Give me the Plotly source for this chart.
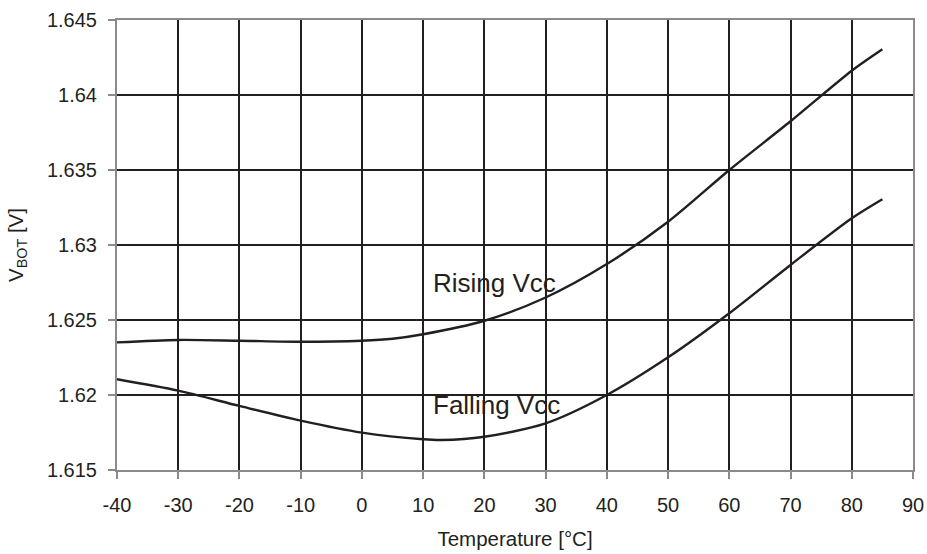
import plotly.graph_objects as go

# Data
temp_rising = [-40, -30, -20, -10, 0, 5, 10, 20, 30, 40, 50, 60, 70, 80, 85]
vbot_rising = [1.62351, 1.62367, 1.62362, 1.62355, 1.62362, 1.62375, 1.62405, 1.62495,
               1.62650, 1.62873, 1.63155, 1.63500, 1.63825, 1.64162, 1.64305]

temp_falling = [-40, -30, -20, -10, 0, 10, 13, 20, 30, 40, 50, 60, 70, 80, 85]
vbot_falling = [1.62105, 1.62029, 1.61927, 1.61829, 1.61749, 1.61705, 1.61700, 1.61722,
                1.61811, 1.62000, 1.62251, 1.62545, 1.62867, 1.63178, 1.63305]

x_ticks = list(range(-40, 91, 10))
y_ticks = [1.615, 1.62, 1.625, 1.63, 1.635, 1.64, 1.645]
y_tick_labels = ["1.615", "1.62", "1.625", "1.63", "1.635", "1.64", "1.645"]

labels = ["Rising Vcc", "Falling Vcc"]
label_x = [11.3, 11.3]
label_y = [1.62747, 1.61933]

ink = "#231f20"
axis_grey = "#8a8a8a"
font_family = "Liberation Sans, Arial, sans-serif"

fig = go.Figure()
fig.add_trace(go.Scatter(x=temp_rising, y=vbot_rising, mode="lines",
                         line=dict(color=ink, width=2.4, shape="spline", smoothing=0.8),
                         showlegend=False, hoverinfo="skip"))
fig.add_trace(go.Scatter(x=temp_falling, y=vbot_falling, mode="lines",
                         line=dict(color=ink, width=2.4, shape="spline", smoothing=0.8),
                         showlegend=False, hoverinfo="skip"))

for t, lx, ly in zip(labels, label_x, label_y):
    fig.add_annotation(x=lx, y=ly, text=t, showarrow=False, xanchor="left", yanchor="middle",
                       font=dict(family=font_family, size=26, color=ink))

fig.update_layout(
    width=927, height=554,
    margin=dict(l=117, r=14, t=20, b=84),
    paper_bgcolor="white", plot_bgcolor="white",
    font=dict(family=font_family, color=ink),
    xaxis=dict(
        range=[-40, 90], tickvals=x_ticks, ticktext=[str(v) for v in x_ticks],
        showgrid=True, gridcolor=ink, gridwidth=2, zeroline=False,
        showline=True, linecolor=axis_grey, linewidth=2, mirror=True,
        ticks="outside", ticklen=7, tickcolor=axis_grey, tickwidth=1.5,
        tickfont=dict(size=20, color=ink), ticklabelstandoff=9,
        title=dict(text="Temperature [°C]", font=dict(size=20.5, color=ink), standoff=17),
        automargin=False,
    ),
    yaxis=dict(
        range=[1.615, 1.645], tickvals=y_ticks, ticktext=y_tick_labels,
        showgrid=True, gridcolor=ink, gridwidth=2, zeroline=False,
        showline=True, linecolor=axis_grey, linewidth=2, mirror=True,
        ticks="outside", ticklen=7, tickcolor=axis_grey, tickwidth=1.5,
        tickfont=dict(size=20, color=ink), ticklabelstandoff=7,
        title=dict(text="V<sub>BOT</sub> [V]", font=dict(size=20.5, color=ink), standoff=18),
        automargin=False,
    ),
)

# remove the browser's default 8px body margin so the figure fills the window exactly
fig.write_html("out.html", config={"displayModeBar": False},
               post_script="document.body.style.margin='0';")
